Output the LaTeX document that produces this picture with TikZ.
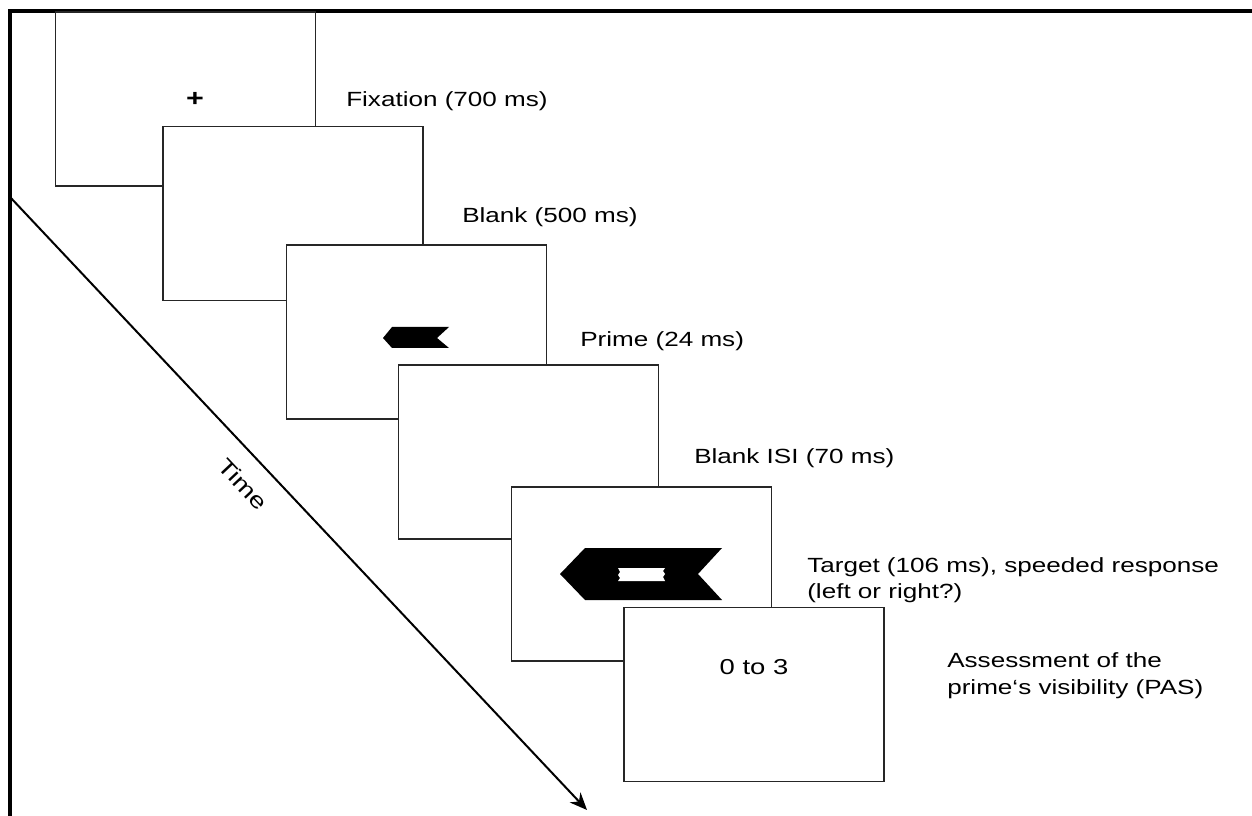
\documentclass[tikz,border=0pt]{standalone}
\usepackage{fontspec}
\setmainfont[FakeStretch=1.27]{Liberation Sans}
\usetikzlibrary{arrows.meta}
\begin{document}
\begin{tikzpicture}[x=0.75pt,y=-0.75pt,
  scr/.style={draw=black!85,line width=1.1pt,fill=white,minimum width=195pt,minimum height=130.5pt,inner sep=0pt},
  lbl/.style={anchor=west,align=left,inner sep=0pt,font=\fontsize{15.4}{19.5}\selectfont},
  frame/.style={line width=2.4pt,black},
  timearrow/.style={line width=1.5pt,-{Stealth[length=13pt,width=11pt]}}]
\useasboundingbox (0,0) rectangle (1252,816);
% frame
\coordinate (ftl) at (10,11);
\coordinate (ftr) at (1252,11);
\coordinate (fbl) at (10,816);
\draw[frame] (ftr) -- (ftl) -- (fbl);
% time arrow
\coordinate (tstart) at (10,197);
\coordinate (tend) at (587,810);
\draw[timearrow] (tstart) -- (tend);
\node[rotate=-46.7,inner sep=0pt,font=\fontsize{16.5}{17}\selectfont] (time) at (243,484) {Time};
% screens
\node[scr] (b1) at (185.5,99) {};
\node[font=\fontsize{18}{18}\selectfont\bfseries] (fix) at (195,99) {+};
\node[scr] (b2) at (293,213.5) {};
\node[scr] (b3) at (416.5,332) {};
\fill[black] (383,338) -- (392,327) -- (449,327) -- (437,338) -- (449,348) -- (392,348) -- cycle;
\node[scr] (b4) at (528.5,452) {};
\node[scr] (b5) at (641.5,574) {};
\fill[black] (560,574) -- (585,548) -- (722,548) -- (698,574) -- (722,600) -- (585,600) -- cycle;
\fill[white] (618,568) -- (665,568) -- (663,571) -- (665,574) -- (663,577) -- (665,581) -- (618,581) -- (620,578) -- (618,575) -- (620,572) -- cycle;
\node[scr] (b6) at (754,694.5) {};
\node[font=\fontsize{16.2}{17}\selectfont] (pas) at (754,667) {0 to 3};
% labels
\node[lbl] (l1) at (346,101) {Fixation (700 ms)};
\node[lbl] (l2) at (462,217) {Blank (500 ms)};
\node[lbl] (l3) at (580,341) {Prime (24 ms)};
\node[lbl] (l4) at (694,458) {Blank ISI (70 ms)};
\node[lbl] (l5) at (807,580) {Target (106 ms), speeded response\\(left or right?)};
\node[lbl,font=\fontsize{15.4}{20.2}\selectfont] (l6) at (947,676) {Assessment of the\\prime‘s visibility (PAS)};
\end{tikzpicture}
\end{document}
